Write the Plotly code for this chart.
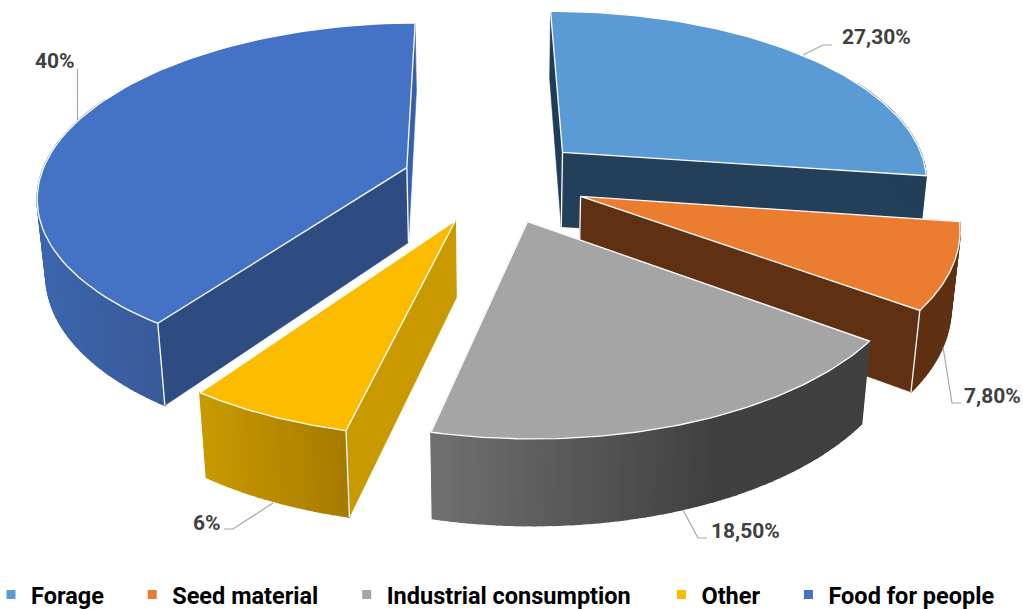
import numpy as np
import plotly.graph_objects as go

categories = ["Forage", "Seed material", "Industrial consumption", "Other", "Food for people"]
values = [27.3, 7.8, 18.5, 6, 40]
labels = ["27,30%", "7,80%", "18,50%", "6%", "40%"]
top_colors = ["#5B9BD5", "#EB7D30", "#A5A5A5", "#FBBC00", "#4472C4"]
legend_pads = ["\u00a0" * 4, "\u00a0" * 4, "\u00a0" * 4 + "\u200a", "\u00a0" * 4, ""]

v = np.array(values, float)
edges = np.concatenate([[0], np.cumsum(v)]) / v.sum() * 2 * np.pi
mids = (edges[:-1] + edges[1:]) / 2

# camera of the 3-D pie
CX, CY, A, B, K, C, M, ROT = 494.335, 180.072, 367.339, 170.169, 0.152, 77.020, 0.019, -0.010
EXPLODE = [0.253, 0.250, 0.251, 0.251, 0.252]

def pts(s, th, r, z):
    a = mids[s] + ROT
    X = EXPLODE[s] * np.sin(a) + r * np.sin(th + ROT)
    Y = EXPLODE[s] * np.cos(a) + r * np.cos(th + ROT)
    w = 1 + K * Y + M * z
    return CX + A * X / w, CY + (-B * Y + C * z) / w

def hexmix(c1, c2, t):
    a = [int(c1[i:i + 2], 16) for i in (1, 3, 5)]
    b = [int(c2[i:i + 2], 16) for i in (1, 3, 5)]
    return "#%02x%02x%02x" % tuple(int(round(a[i] + (b[i] - a[i]) * t)) for i in range(3))

rim_c = [("#243F59", "#243F59"), ("#5F3112", "#5F3112"), ("#707070", "#404040"), ("#C89A00", "#A67A00"), ("#3C66AE", "#395A98")]
rim_span = [1, 1, .65, 1, 1]
start_c = ["#1F3D58", "#5F3112", "#555555", "#C89A00", "#2E4C82"]
end_c = ["#243F59", "#5F3112", "#555555", "#C89A00", "#3560AC"]
white_apex = [True, True, False, False, True]
white_start = [False, False, False, True, True]
white_end = [False, True, False, False, False]

fig = go.Figure()

def poly(xs, ys, fill, lc=None, lw=1.5):
    fig.add_trace(go.Scatter(x=list(xs), y=list(ys), mode="lines", fill="toself", fillcolor=fill,
                             line=dict(color=lc or fill, width=lw), hoverinfo="skip", showlegend=False))

def seg(a, b, c="#FFFFFF", w=1.3):
    fig.add_trace(go.Scatter(x=[a[0], b[0]], y=[a[1], b[1]], mode="lines", line=dict(color=c, width=w),
                             hoverinfo="skip", showlegend=False))

for s in [0, 4, 1, 3, 2]:
    t0, t1 = edges[s], edges[s + 1]
    for t, col in ((t0, start_c[s]), (t1, end_c[s])):
        q = [pts(s, 0, 0, 0), pts(s, t, 1, 0), pts(s, t, 1, 1), pts(s, 0, 0, 1), pts(s, 0, 0, 0)]
        poly([k[0] for k in q], [k[1] for k in q], col, lw=.6)
    n = max(12, int(np.degrees(t1 - t0) / 1.2))
    ths = np.linspace(t0, t1, n + 1)
    vis = [t for t in ths if np.cos(t) < 0.2]
    xv = [pts(s, t, 1, 0)[0] for t in vis] or [pts(s, t, 1, 0)[0] for t in ths]
    x0, x1 = min(xv), max(xv)
    for i in range(n):
        a, b = ths[i], ths[i + 1]
        if np.cos((a + b) / 2) > 0.45:
            continue
        q = [pts(s, a, 1, 0), pts(s, b, 1, 0), pts(s, b, 1, 1), pts(s, a, 1, 1), pts(s, a, 1, 0)]
        u = np.clip(((q[0][0] + q[1][0]) / 2 - x0) / max(x1 - x0, 1) / rim_span[s], 0, 1)
        poly([k[0] for k in q], [k[1] for k in q], hexmix(rim_c[s][0], rim_c[s][1], u))
    if white_start[s]:
        seg(pts(s, t0, 1, 0), pts(s, t0, 1, 1))
    if white_end[s]:
        seg(pts(s, t1, 1, 0), pts(s, t1, 1, 1))
    if white_apex[s]:
        seg(pts(s, 0, 0, 0), pts(s, 0, 0, 1))
    tt = np.linspace(t0, t1, 80)
    ax, ay = pts(s, 0, 0, 0)
    xs = [ax] + [pts(s, t, 1, 0)[0] for t in tt] + [ax]
    ys = [ay] + [pts(s, t, 1, 0)[1] for t in tt] + [ay]
    poly(xs, ys, top_colors[s], "#FFFFFF", 1.3)

leaders = [[(803, 55), (823, 45), (832, 45)], [(943, 347), (952, 403), (961, 403)], [(683, 510), (698, 538), (707, 538)],
           [(273, 503), (233, 529), (224, 529)], [(77.5, 120), (77.5, 69)]]
for l in leaders:
    fig.add_trace(go.Scatter(x=[a for a, _ in l], y=[b for _, b in l], mode="lines",
                             line=dict(color="#A6A6A6", width=1.2), hoverinfo="skip", showlegend=False))
anch = [(876, 37), (992, 396), (745, 531), (207, 523), (55, 61)]
for t, (x, y) in zip(labels, anch):
    fig.add_annotation(x=x, y=y, text=t, showarrow=False, font=dict(family="Roboto", size=21, color="#404040", weight="bold"))
for n, c, pad in zip(categories, top_colors, legend_pads):
    fig.add_trace(go.Scatter(x=[None], y=[None], mode="markers", name=n + pad,
                             marker=dict(symbol="square", size=9, color=c)))
SHIFT = 9
fig.update_layout(width=1023 + SHIFT, height=609, margin=dict(l=0, r=0, t=0, b=0, autoexpand=False),
                  paper_bgcolor="white", plot_bgcolor="white",
                  xaxis=dict(range=[-SHIFT, 1023], visible=False, fixedrange=True),
                  yaxis=dict(range=[609, 0], visible=False, fixedrange=True),
                  legend=dict(orientation="h", x=0, xanchor="left", y=0.0235, yanchor="middle",
                              font=dict(family="Roboto", size=23.5, color="#000000", weight="bold"),
                              itemwidth=30, bgcolor="rgba(0,0,0,0)"))
fig.write_html("out.html", config={"displayModeBar": False},
               post_script="document.body.style.margin='0 0 0 -%dpx';document.body.style.overflow='hidden';" % SHIFT)
